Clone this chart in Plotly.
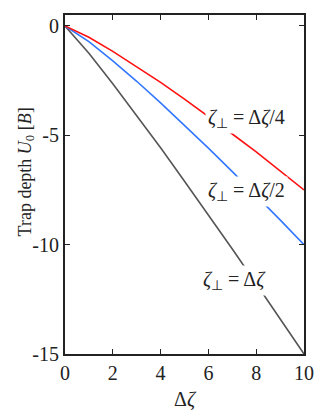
import plotly.graph_objects as go

dzeta = [0, 1, 2, 3, 4, 5, 6, 7, 8, 9, 10]
u_quarter = [0, -0.52, -1.16, -1.85, -2.58, -3.35, -4.13, -4.94, -5.76, -6.62, -7.5]
u_half = [0, -0.72, -1.60, -2.53, -3.52, -4.54, -5.59, -6.66, -7.75, -8.87, -10.0]
u_full = [0, -1.25, -2.64, -4.09, -5.57, -7.10, -8.64, -10.2, -11.79, -13.39, -15.0]

x_ticks = [0, 2, 4, 6, 8, 10]
y_ticks = [0, -5, -10, -15]
y_ticktext = ["0", "-5", "-10", "-15"]

labels = [
    ("<i>ζ</i><sub>⊥</sub> = Δ<i>ζ</i>/4", 7.6, -4.24),
    ("<i>ζ</i><sub>⊥</sub> = Δ<i>ζ</i>/2", 7.6, -7.59),
    ("<i>ζ</i><sub>⊥</sub> = Δ<i>ζ</i>", 7.08, -11.63),
]

SERIF = "Liberation Serif"

fig = go.Figure()
fig.add_scatter(x=dzeta, y=u_full, mode="lines", line=dict(color="#555555", width=1.6))
fig.add_scatter(x=dzeta, y=u_half, mode="lines", line=dict(color="#3377ff", width=1.6))
fig.add_scatter(x=dzeta, y=u_quarter, mode="lines", line=dict(color="#ff1111", width=1.6))

for txt, x, y in labels:
    fig.add_annotation(
        x=x, y=y, text=txt, showarrow=False,
        font=dict(family=SERIF, size=20, color="#222"),
        bgcolor="white", borderpad=2,
    )

# y title sits a bit above the plot centre in the original, so place it by hand
fig.add_annotation(
    xref="paper", x=0, xanchor="center", xshift=-39,
    yref="y", y=-6.7, yanchor="middle",
    text="Trap depth <i>U</i><sub>0</sub> [<i>B</i>]", textangle=-90,
    showarrow=False, font=dict(family=SERIF, size=18, color="#222"),
)

axis_common = dict(
    showgrid=False, zeroline=False,
    showline=True, linecolor="#222", linewidth=2, mirror="ticks",
    ticks="inside", ticklen=5, tickwidth=1, tickcolor="#222",
    tickfont=dict(family=SERIF, size=20, color="#222"),
)

# the page body has an 8px margin, so the figure is shrunk and shifted to fit
fig.update_layout(
    width=311, height=404,
    margin=dict(l=57, r=10, t=5, b=51),
    paper_bgcolor="white", plot_bgcolor="white",
    showlegend=False,
    font=dict(family=SERIF, color="#222"),
    xaxis=dict(
        axis_common, range=[0, 10], tickvals=x_ticks,
        title=dict(text="Δ<i>ζ</i>", font=dict(family=SERIF, size=20), standoff=9),
    ),
    yaxis=dict(
        axis_common, range=[-15, 0.5], tickvals=y_ticks, ticktext=y_ticktext,
    ),
)

fig.write_html("out.html")
